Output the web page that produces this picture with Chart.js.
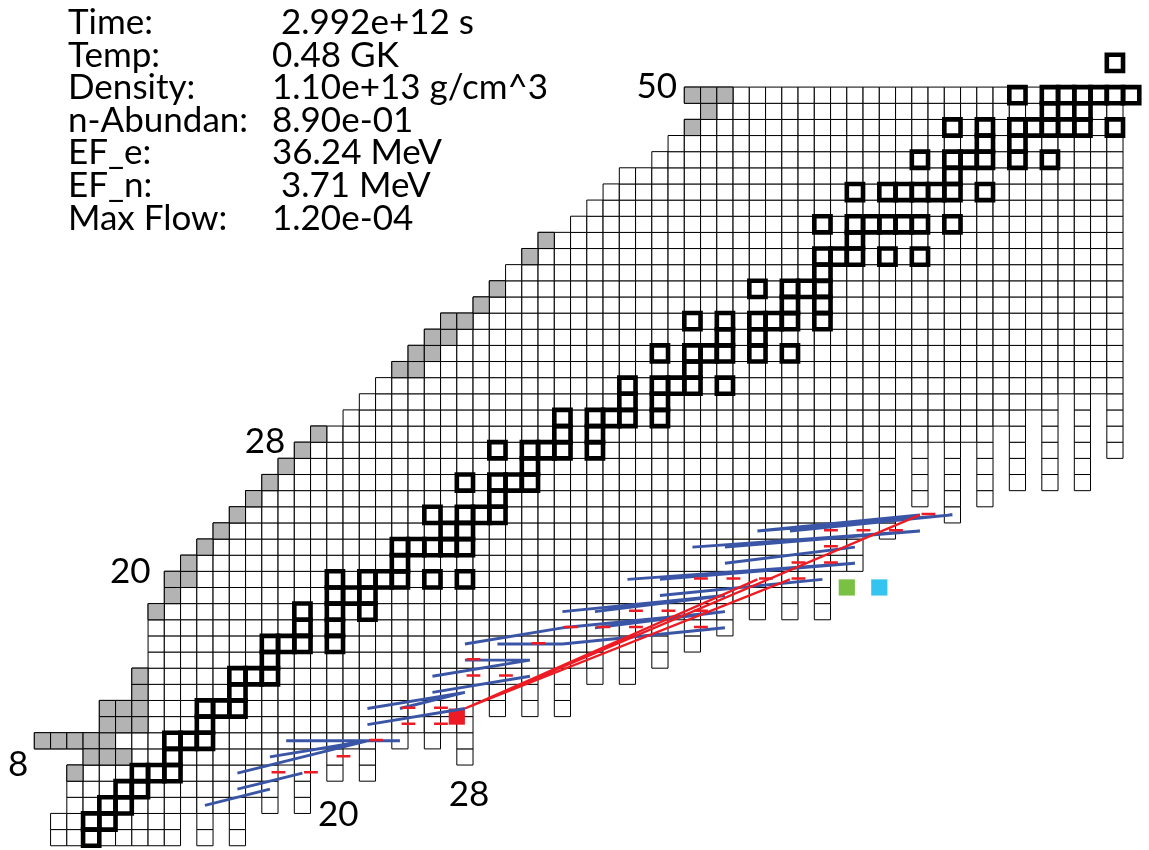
<!DOCTYPE html>
<html lang="en">

<head>
    <meta charset="UTF-8">
    <meta name="viewport" content="width=device-width, initial-scale=1.0">
    <script src="https://cdn.jsdelivr.net/npm/chart.js"></script>
    <title>Reaction flow - nuclide chart</title>
    <style>
        body { margin: 0; background: #fff; }
        #wrap { position: relative; width: 1149px; height: 850px; overflow: hidden; }
        #grafico { position: absolute; left: 0; top: 0; }
        .info { position: absolute; left: 68px; top: 4px; font-family: Lato, sans-serif; font-size: 35px; line-height: 32.6px; color: #000; }
        .info div { position: relative; height: 32.6px; white-space: pre; }
        .info .v { position: absolute; left: 204px; }
    </style>
</head>

<body>
    <div id="wrap">
        <canvas id="grafico" width="1149" height="850"></canvas>
        <div class="info" id="info"></div>
    </div>
</body>

</html>

<script>
    // info block
    var infoLabels = ['Time:', 'Temp:', 'Density:', 'n-Abundan:', 'EF_e:', 'EF_n:', 'Max Flow:']
    var infoValues = [' 2.992e+12 s', '0.48 GK', '1.10e+13 g/cm^3', '8.90e-01', '36.24 MeV', ' 3.71 MeV', '1.20e-04']

    // rows of the chart (Z) and the nuclei present in each one (N)
    var zRows  = [4, 5, 6, 7, 8, 9, 10, 11, 12, 13, 14, 15, 16, 17, 18, 19, 20, 21, 22, 23, 24, 25, 26, 27,
                  28, 29, 30, 31, 32, 33, 34, 35, 36, 37, 38, 39, 40, 41, 42, 43, 44, 45, 46, 47, 48, 49, 50]
    var nFirst = [3, 3, 4, 4, 4, 5, 2, 6, 6, 8, 8, 9, 9, 9, 9, 10, 10, 11, 12, 13, 14, 15, 16, 17,
                  18, 19, 21, 22, 23, 24, 25, 26, 27, 29, 30, 31, 32, 33, 35, 36, 37, 38, 40, 41, 42, 43, 42]
    var nLast  = [10, 10, 14, 16, 16, 18, 22, 28, 28, 30, 32, 36, 36, 40, 44, 46, 50, 52, 52, 52, 52, 52, 52, 52,
                  54, 60, 62, 64, 68, 68, 68, 68, 68, 68, 68, 68, 68, 68, 68, 68, 68, 68, 68, 68, 68, 68, 68]
    // even-N nuclei past the end of each row
    var nTail  = [[12, 14], [12, 14], [16, 18], [18], [18, 20, 22], [20, 22, 28], [24, 26, 28], [], [30, 32, 34],
                  [32, 34], [34, 36, 38], [38, 40], [38, 40, 42], [42, 44], [46, 48, 50], [48, 50], [], [], [], [54],
                  [54, 58], [54, 56, 58, 60], [54, 56, 58, 60, 62, 64, 66], [54, 56, 58, 60, 62, 64, 66],
                  [56, 58, 60, 62, 64, 66, 68], [62, 64, 66, 68], [64, 66, 68], [66, 68],
                  [], [], [], [], [], [], [], [], [], [], [], [], [], [], [], [], [], [], []]

    // grey cells [N, Z]
    var grayCells = [[2, 10], [3, 10], [4, 10], [5, 10], [6, 10], [5, 9], [6, 9], [7, 9], [4, 8], [6, 11], [7, 11], [8, 11],
                     [6, 12], [7, 12], [8, 12], [8, 13], [8, 14], [9, 18], [10, 19], [10, 20], [11, 20], [11, 21], [12, 22],
                     [13, 23], [14, 24], [15, 25], [16, 26], [17, 27], [18, 28], [19, 29], [24, 33], [25, 33], [25, 34],
                     [26, 34], [26, 35], [27, 35], [27, 36], [28, 36], [29, 37], [30, 38], [32, 40], [33, 41], [42, 48],
                     [43, 49], [42, 50], [43, 50], [44, 50]]

    // stable nuclei [Z, [N...]]
    var stableNuclei = [[4, [5]], [5, [5, 6]], [6, [6, 7]], [7, [7, 8]], [8, [8, 9, 10]], [9, [10]], [10, [10, 11, 12]],
                        [11, [12]], [12, [12, 13, 14]], [13, [14]], [14, [14, 15, 16]], [15, [16]], [16, [16, 17, 18, 20]],
                        [17, [18, 20]], [18, [18, 20, 22]], [19, [20, 21, 22]], [20, [20, 22, 23, 24, 26, 28]], [21, [24]],
                        [22, [24, 25, 26, 27, 28]], [23, [27, 28]], [24, [26, 28, 29, 30]], [25, [30]], [26, [28, 30, 31, 32]],
                        [27, [32]], [28, [30, 32, 33, 34, 36]], [29, [34, 36]], [30, [34, 36, 37, 38, 40]], [31, [38, 40]],
                        [32, [38, 40, 41, 42, 44]], [33, [42]], [34, [40, 42, 43, 44, 46, 48]], [35, [44, 46]],
                        [36, [42, 44, 46, 47, 48, 50]], [37, [48, 50]], [38, [46, 48, 49, 50]], [39, [50]],
                        [40, [50, 51, 52, 54, 56]], [41, [52]], [42, [50, 52, 53, 54, 55, 56, 58]],
                        [44, [52, 54, 55, 56, 57, 58, 60]], [45, [58]], [46, [56, 58, 59, 60, 62, 64]], [47, [60, 62]],
                        [48, [58, 60, 62, 63, 64, 65, 66, 68]], [49, [64, 66]], [50, [62, 64, 65, 66, 67, 68, 69]], [52, [68]]]

    // flows [N1, Z1, N2, Z2]
    var flowBlue = [[12, 6, 16, 7], [14, 7, 18, 8], [14, 8, 22, 10], [16, 9, 22, 10], [17, 10, 24, 10], [18, 10, 24, 10],
                    [22, 11, 28, 12], [22, 12, 28, 13], [24, 12, 28, 13], [26, 13, 32, 14], [26, 14, 32, 15],
                    [28, 15, 32, 15], [28, 16, 34, 17], [30, 16, 34, 16], [34, 16, 44, 17], [34, 17, 44, 18],
                    [36, 17, 44, 18], [34, 18, 44, 19], [36, 18, 44, 19], [38, 20, 52, 21], [40, 20, 52, 21],
                    [40, 19, 50, 20], [42, 22, 56, 23], [44, 22, 56, 23], [44, 21, 52, 22], [46, 23, 56, 24],
                    [46, 23, 58, 24], [48, 23, 58, 24]]
    var flowRed  = [[28, 12, 56, 24], [28, 12, 48, 20], [28, 12, 46, 20]]
    // short red marks [N, Z]
    var dashRed  = [[16, 8], [18, 8], [20, 9], [22, 10], [24, 11], [26, 11], [24, 12], [26, 12], [28, 14], [30, 14],
                    [28, 15], [32, 16], [34, 17], [36, 17], [38, 17], [42, 17], [38, 18], [40, 18], [42, 18], [42, 20],
                    [44, 20], [46, 20], [48, 20], [48, 21], [50, 21], [50, 22], [50, 23], [52, 23], [54, 23], [56, 24]]

    var markRed = [[28, 12]]
    var markGreen = [[52, 20]]
    var markCyan = [[54, 20]]

    // magic numbers
    var magicLabels = [{ t: '8', n: 1.0, z: 9.0 }, { t: '20', n: 7.9, z: 21.0 }, { t: '28', n: 16.2, z: 29.0 },
                       { t: '50', n: 40.3, z: 51.0 }, { t: '20', n: 20.7, z: 5.9 }, { t: '28', n: 28.75, z: 7.15 }]

    var info = document.getElementById('info')
    var html = ''
    for (var i = 0; i < infoLabels.length; i++) {
        html += `<div>${infoLabels[i]}<span class="v">${infoValues[i]}</span></div>`
    }
    info.innerHTML = html

    function centro(n, z) {
        return { x: n + 0.5, y: z + 0.5 }
    }

    var celulas = []
    zRows.forEach((z, i) => {
        for (var n = nFirst[i]; n <= nLast[i]; n++) celulas.push(centro(n, z))
        nTail[i].forEach(n => celulas.push(centro(n, z)))
    })

    var cinzas = grayCells.map(c => centro(c[0], c[1]))

    var estaveis = []
    stableNuclei.forEach(s => s[1].forEach(n => estaveis.push(centro(n, s[0]))))

    function segmentos(lista) {
        var pts = []
        lista.forEach(f => {
            pts.push(centro(f[0], f[1]))
            pts.push(centro(f[2], f[3]))
            pts.push({ x: null, y: null })
        })
        return pts
    }

    var tracos = []
    dashRed.forEach(d => {
        tracos.push({ x: d[0] + 0.6, y: d[1] + 0.55 })
        tracos.push({ x: d[0] + 1.45, y: d[1] + 0.55 })
        tracos.push({ x: null, y: null })
    })

    var lado = 11.46 // pointRadius that gives a 16.2px square

    var etiquetas = {
        id: 'etiquetas',
        afterDatasetsDraw(chart) {
            var ctx = chart.ctx
            var x = chart.scales.x
            var y = chart.scales.y
            ctx.save()
            ctx.font = '35px Lato'
            ctx.fillStyle = '#000'
            ctx.textAlign = 'center'
            ctx.textBaseline = 'middle'
            magicLabels.forEach(l => ctx.fillText(l.t, x.getPixelForValue(l.n), y.getPixelForValue(l.z)))
            ctx.restore()
        }
    }

    var pontos = (dados, fundo, borda, largura, ordem) => ({
        data: dados,
        pointStyle: 'rect',
        pointRadius: lado,
        pointHoverRadius: lado,
        pointBackgroundColor: fundo,
        pointBorderColor: borda,
        pointBorderWidth: largura,
        showLine: false,
        order: ordem
    })

    var linhas = (dados, cor, largura, ordem) => ({
        data: dados,
        showLine: true,
        spanGaps: false,
        borderColor: cor,
        borderWidth: largura,
        pointRadius: 0,
        pointHoverRadius: 0,
        order: ordem
    })

    const config = {
        type: 'scatter',
        data: {
            datasets: [
                pontos(celulas, '#ffffff', '#000000', 1, 9),
                pontos(cinzas, '#b3b3b3', '#000000', 1, 8),
                pontos(estaveis, 'rgba(0,0,0,0)', '#000000', 4.6, 7),
                pontos(markRed, '#ed1c24', '#ed1c24', 0, 6),
                pontos(markGreen, '#7ac143', '#7ac143', 0, 6),
                pontos(markCyan, '#35c4ef', '#35c4ef', 0, 6),
                linhas(segmentos(flowBlue), '#3a55a5', 2.9, 3),
                linhas(tracos, '#ed1c24', 2.5, 2),
                linhas(segmentos(flowRed), '#ed1c24', 2.3, 1)
            ]
        },
        options: {
            responsive: false,
            animation: false,
            events: [],
            layout: { padding: 0, autoPadding: false },
            plugins: { legend: { display: false }, tooltip: { enabled: false } },
            scales: {
                x: { type: 'linear', display: false, min: -0.111, max: 70.597 },
                y: { type: 'linear', display: false, min: 3.734, max: 56.398 }
            }
        },
        plugins: [etiquetas]
    }

    const myChart = new Chart(document.getElementById('grafico'), config)
</script>
